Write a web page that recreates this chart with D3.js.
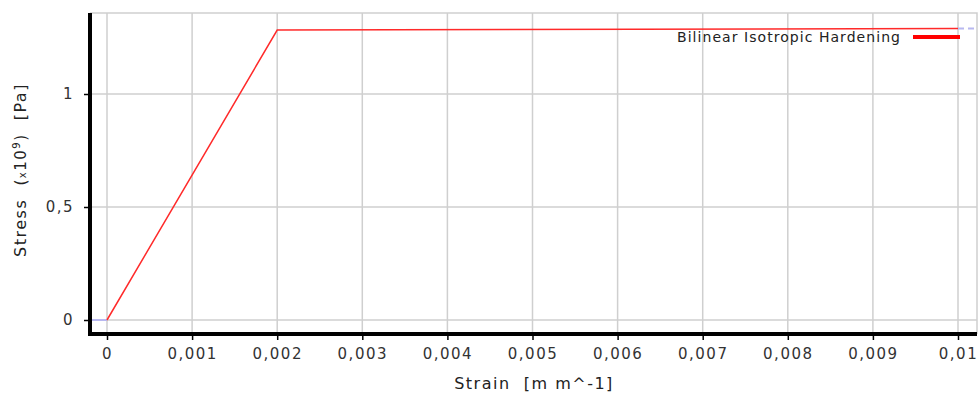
<!DOCTYPE html>
<html>
<head>
<meta charset="utf-8">
<script src="https://cdn.jsdelivr.net/npm/d3@7.9.0/dist/d3.min.js"></script>
<style>
  body { margin: 0; background: #fff; }
  svg { display: block; font-family: "DejaVu Sans", sans-serif; }
</style>
</head>
<body>
<div id="vis"></div>
<script>
// data
const strain = [0, 0.002, 0.01];
const stress = [0, 1.283, 1.29]; // x10^9 Pa
const extStrain = [[-0.0002, 0], [0.01, 0.0102]];
const extStress = [[0, 0], [1.29, 1.29]];
const xTicks = [0, 0.001, 0.002, 0.003, 0.004, 0.005, 0.006, 0.007, 0.008, 0.009, 0.01];
const yTicks = [0, 0.5, 1];
const seriesName = "Bilinear Isotropic Hardening";

const width = 980;
const height = 394;
const plot = { left: 90, right: 977, top: 13, bottom: 334 };

const xScale = d3.scaleLinear().domain([0, 0.01]).range([107, 958]);
const yScale = d3.scaleLinear().domain([0, 1]).range([320, 94]);

const fmt = (d) => String(d).replace(".", ",");

const svg = d3
  .select("#vis")
  .append("svg")
  .attr("width", width)
  .attr("height", height);

// gridlines
svg
  .append("g")
  .selectAll("line")
  .data(xTicks)
  .enter()
  .append("line")
  .attr("x1", (d) => xScale(d))
  .attr("x2", (d) => xScale(d))
  .attr("y1", plot.top)
  .attr("y2", plot.bottom)
  .attr("stroke", "#cfcfcf")
  .attr("stroke-width", 1.5);

svg
  .append("g")
  .selectAll("line")
  .data(yTicks)
  .enter()
  .append("line")
  .attr("x1", plot.left)
  .attr("x2", plot.right)
  .attr("y1", (d) => yScale(d))
  .attr("y2", (d) => yScale(d))
  .attr("stroke", "#cfcfcf")
  .attr("stroke-width", 1.5);

// frame top / right
svg
  .append("path")
  .attr("d", `M${plot.left},${plot.top}H${plot.right}V${plot.bottom}`)
  .attr("fill", "none")
  .attr("stroke", "#cfcfcf")
  .attr("stroke-width", 1.5);

// extension segments (faint blue)
const line = d3
  .line()
  .x((d) => xScale(d[0]))
  .y((d) => yScale(d[1]));

extStrain.forEach((xs, i) => {
  svg
    .append("path")
    .attr("d", line(xs.map((x, j) => [x, extStress[i][j]])))
    .attr("fill", "none")
    .attr("stroke", "#b8b8f0")
    .attr("stroke-width", 2)
    .attr("stroke-dasharray", i === 1 ? "6,4" : null);
});

// main series
svg
  .append("path")
  .attr("d", line(strain.map((x, i) => [x, stress[i]])))
  .attr("fill", "none")
  .attr("stroke", "#ff2a2a")
  .attr("stroke-width", 1.5);

// axes
const xAxis = svg
  .append("g")
  .attr("transform", `translate(0,${plot.bottom})`)
  .call(d3.axisBottom(xScale).tickValues(xTicks).tickFormat(fmt).tickSize(6).tickPadding(8));
xAxis.select(".domain").remove();
xAxis.selectAll(".tick line").attr("stroke", "#000").attr("stroke-width", 1.5);
xAxis
  .selectAll("text")
  .attr("font-size", 15)
  .attr("letter-spacing", 1.5)
  .attr("fill", "#333")
  .attr("font-family", "DejaVu Sans");

const yAxis = svg
  .append("g")
  .attr("transform", `translate(${plot.left},0)`)
  .call(d3.axisLeft(yScale).tickValues(yTicks).tickFormat(fmt).tickSize(6).tickPadding(10));
yAxis.select(".domain").remove();
yAxis.selectAll(".tick line").attr("stroke", "#000").attr("stroke-width", 1.5);
yAxis
  .selectAll("text")
  .attr("font-size", 15)
  .attr("letter-spacing", 1.5)
  .attr("fill", "#333")
  .attr("font-family", "DejaVu Sans");

// thick axis lines
svg
  .append("path")
  .attr("d", `M${plot.left},${plot.top}V${plot.bottom}H${plot.right}`)
  .attr("fill", "none")
  .attr("stroke", "#000")
  .attr("stroke-width", 4);

// legend
svg
  .append("text")
  .attr("x", 677)
  .attr("y", 42)
  .attr("font-size", 14)
  .attr("letter-spacing", 1.05)
  .attr("fill", "#222")
  .text(seriesName);
svg
  .append("line")
  .attr("x1", 913)
  .attr("x2", 960)
  .attr("y1", 37)
  .attr("y2", 37)
  .attr("stroke", "#ff0000")
  .attr("stroke-width", 4);

// axis titles
svg
  .append("text")
  .attr("x", 534)
  .attr("y", 389)
  .attr("text-anchor", "middle")
  .attr("font-size", 16)
  .attr("letter-spacing", 1.5)
  .attr("fill", "#222")
  .attr("xml:space", "preserve")
  .text("Strain  [m m^-1]");

const yTitle = svg
  .append("text")
  .attr("transform", "translate(26,170) rotate(-90)")
  .attr("text-anchor", "middle")
  .attr("font-size", 16)
  .attr("letter-spacing", 1.5)
  .attr("fill", "#222")
  .attr("xml:space", "preserve");
yTitle.append("tspan").text("Stress  ");
yTitle.append("tspan").attr("font-size", 15).text("(");
yTitle.append("tspan").attr("font-size", 10).text("x");
yTitle.append("tspan").attr("font-size", 15).text("10");
yTitle.append("tspan").attr("font-size", 10).attr("dy", -6).text("9");
yTitle.append("tspan").attr("font-size", 15).attr("dy", 6).text(")");
yTitle.append("tspan").text("  [Pa]");
</script>
</body>
</html>
